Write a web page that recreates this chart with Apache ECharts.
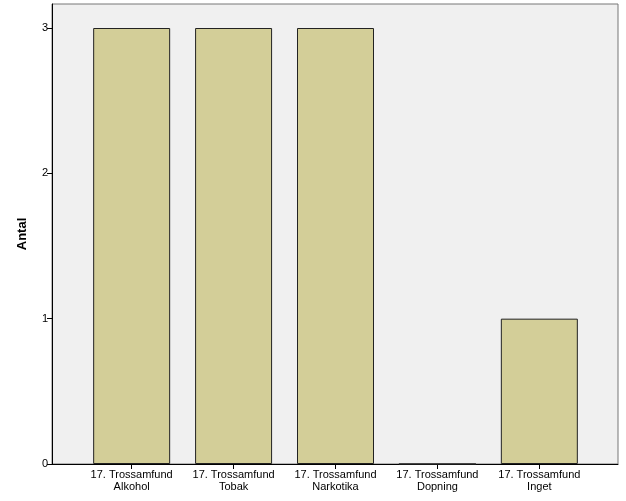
<!DOCTYPE html>
<html>
<head>
<meta charset="utf-8">
<script src="https://cdn.jsdelivr.net/npm/echarts@6/dist/echarts.min.js"></script>
<style>html,body{margin:0;padding:0;background:#fff}#c{width:626px;height:501px}</style>
</head>
<body>
<div id="c"></div>
<script>
const categories = ["17. Trossamfund\nAlkohol", "17. Trossamfund\nTobak", "17. Trossamfund\nNarkotika", "17. Trossamfund\nDopning", "17. Trossamfund\nInget"];
const values = [3, 3, 3, 0, 1];
const yMin = 0, yMax = 3, yStep = 1;
const yTitle = "Antal";

const chart = echarts.init(document.getElementById('c'), null, {renderer: 'canvas'});
const font = "'Liberation Sans', Arial, sans-serif";
chart.setOption({
  animation: false,
  grid: [
    {left: 52, top: 4, width: 566, height: 460, show: true, backgroundColor: '#f0f0f0', borderColor: '#777', borderWidth: 1},
    {left: 52, top: 28, width: 566, height: 436},
    {left: 80.7, top: 28, width: 509.6, height: 436}
  ],
  xAxis: [
    {gridIndex: 0, type: 'value', min: 0, max: 1, axisLine: {show: true, onZero: false, lineStyle: {color: '#000', width: 1}}, axisTick: {show: false}, axisLabel: {show: false}, splitLine: {show: false}},
    {gridIndex: 1, type: 'value', min: 0, max: 1, show: false},
    {gridIndex: 2, type: 'category', data: categories, boundaryGap: true,
     axisLine: {show: false}, axisTick: {show: true, alignWithLabel: true, length: 5, lineStyle: {color: '#000'}},
     axisLabel: {color: '#000', fontFamily: font, fontSize: 11, lineHeight: 12, margin: 5, interval: 0}}
  ],
  yAxis: [
    {gridIndex: 0, type: 'value', min: 0, max: 1,
     axisLine: {show: true, lineStyle: {color: '#000', width: 1}},
     axisTick: {show: false}, axisLabel: {show: false}, splitLine: {show: false},
     name: yTitle, nameLocation: 'middle', nameGap: 23, nameRotate: 90,
     nameTextStyle: {color: '#000', fontFamily: font, fontSize: 13, fontWeight: 'bold'}},
    {gridIndex: 1, type: 'value', min: yMin, max: yMax, interval: yStep,
     axisLine: {show: false},
     axisTick: {show: true, length: 5, lineStyle: {color: '#000'}},
     axisLabel: {color: '#000', fontFamily: font, fontSize: 11, margin: 4},
     splitLine: {show: false}},
    {gridIndex: 2, type: 'value', min: yMin, max: yMax, interval: yStep, show: false}
  ],
  series: [{
    type: 'bar', xAxisIndex: 2, yAxisIndex: 2, data: values, barWidth: 77,
    itemStyle: {color: '#d3ce98', borderColor: '#222', borderWidth: 1}
  }]
});
</script>
</body>
</html>
